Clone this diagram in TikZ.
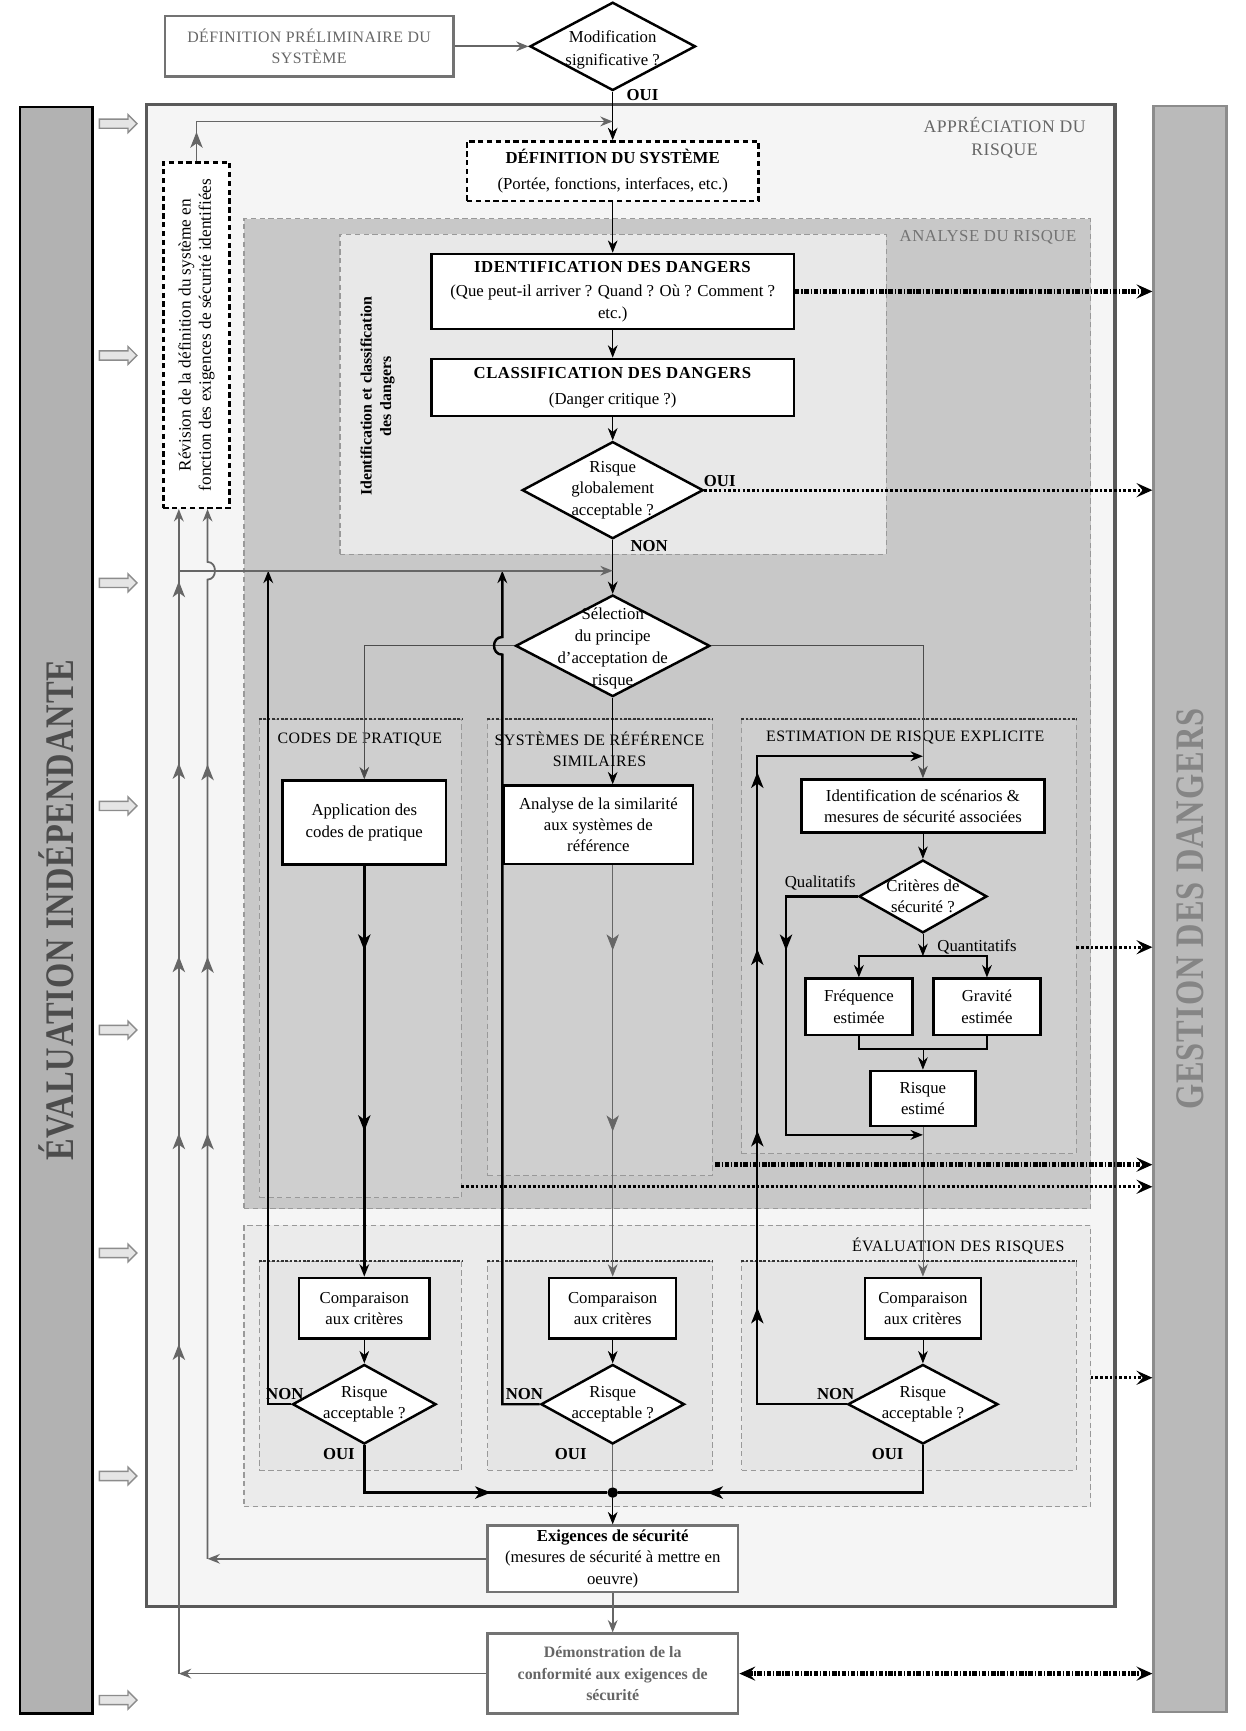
\documentclass[tikz,border=0pt]{standalone}
\usepackage{fontspec}
\usepackage{graphicx}
\setmainfont{Liberation Serif}
\newfontfamily\lsfont{Liberation Serif}[LetterSpace=3]
\usetikzlibrary{shapes.geometric,shapes.arrows,arrows.meta,decorations.markings}
\definecolor{bargris}{HTML}{B2B2B2}
\definecolor{fondapp}{HTML}{F5F5F5}
\definecolor{fondana}{HTML}{C8C8C8}
\definecolor{fondidc}{HTML}{E8E8E8}
\definecolor{fondcol}{HTML}{CFCFCF}
\definecolor{fondeva}{HTML}{EBEBEB}
\definecolor{fondevc}{HTML}{E5E5E5}
\begin{document}
\begin{tikzpicture}[x=0.022cm,y=-0.022cm,
  >={Stealth[length=7pt,width=5.5pt]},
  sz/.style 2 args={minimum width=#1*0.022cm,minimum height=#2*0.022cm},
  txt/.style={font=\fontsize{9.5}{12}\selectfont,align=center,inner sep=1pt},
  hdr/.style={font=\lsfont\fontsize{9}{12}\selectfont,align=center,inner sep=1pt},
  lab/.style={txt,font=\bfseries\fontsize{9.5}{12}\selectfont},
  box/.style={txt,draw,line width=1.4pt,fill=white,inner sep=2pt},
  dia/.style={diamond,draw,line width=1.4pt,fill=white,inner sep=0pt},
  reg/.style={draw=black!40,dash pattern=on 3pt off 2pt,line width=0.6pt,fill=#1},
  topdots/.style={draw=black!80,line width=1.2pt,dash pattern=on 1.5pt off 1pt},
  thk/.style={line width=1.4pt},
  fb/.style={draw=black!60,line width=1pt},
  ddt/.style={line width=2.6pt,dash pattern=on 2.5pt off 1pt on 0.8pt off 1pt},
  ddm/.style={line width=1.6pt,dash pattern=on 1.5pt off 1.2pt},
  dtip/.style={-{Stealth[length=9pt,width=8pt,inset=3.5pt]}},
  marr/.style={postaction={decorate,decoration={markings,
    mark=at position #1 with {\arrow{Stealth[length=9pt,width=7pt,inset=2.5pt]}}}}},
  barr/.style={single arrow,draw=black!45,fill=black!10,line width=0.8pt,sz={16}{34},
    single arrow head extend=2.5pt,inner sep=2.2pt},
  bar/.style={draw,fill=bargris,line width=1.4pt,sz={66}{1455}}]
\useasboundingbox (0,0) rectangle (1128,1568);
% 两侧竖条
\node[bar] (lbar) at (51,824.5) {};
\node[bar,draw=black!45,fill=black!27] (rbar) at (1078,823.5) {};
\node[rotate=90,text=black!70,font=\lsfont\bfseries\fontsize{23}{23}\selectfont] (lbar-t) at (lbar) {\scalebox{0.8}[1]{ÉVALUATION INDÉPENDANTE}};
\node[rotate=90,text=black!48,font=\lsfont\bfseries\fontsize{23}{23}\selectfont] (rbar-t) at (rbar) {\scalebox{0.8}[1]{GESTION DES DANGERS}};
\foreach \yy [count=\i] in {112,322,528,730,933,1135,1337,1540}
  \node[barr] (ba\i) at (105,\yy) {};
% 顶部
\node[box,draw=black!55,line width=1.6pt,hdr,text=black!60,sz={261}{55}] (prelim) at (280,42) {DÉFINITION PRÉLIMINAIRE DU\\SYSTÈME};
\node[dia,sz={150}{80}] (modif) at (555,42) {};
\node[txt,font=\fontsize{9.5}{13}\selectfont] (modif-t) at (555,45) {Modification\\significative ?};
% 区域
\node[draw=black!65,line width=1.8pt,fill=fondapp,sz={877}{1360}] (appr) at (571.5,775) {};
\node[txt,text=black!60,font=\lsfont\fontsize{10}{13}\selectfont] (appr-l) at (910,125) {APPRÉCIATION DU\\RISQUE};
\node[reg=fondana,sz={767}{897}] (ana) at (604.5,646.5) {};
\node[hdr,text=black!55,font=\lsfont\fontsize{9.5}{12}\selectfont] (ana-l) at (895,215) {ANALYSE DU RISQUE};
\node[reg=fondidc,sz={495}{290}] (idc) at (555.5,357) {};
\node[txt,rotate=90,font=\bfseries\fontsize{9}{11}\selectfont] (idc-l) at (342,359) {Identification et classification\\des dangers};
\node[reg=fondcol,sz={183}{433}] (codes) at (326.5,868.5) {};
\node[reg=fondcol,sz={203}{413}] (sref) at (543.5,858.5) {};
\node[reg=fondcol,sz={303}{393}] (estim) at (823.5,848.5) {};
\node[reg=fondeva,sz={767}{255}] (eva) at (604.5,1237.5) {};
\node[reg=fondevc,sz={183}{189}] (ev1) at (326.5,1237.5) {};
\node[reg=fondevc,sz={203}{189}] (ev2) at (543.5,1237.5) {};
\node[reg=fondevc,sz={303}{189}] (ev3) at (823.5,1237.5) {};
\foreach \c in {codes,sref,estim,ev1,ev2,ev3}
  \draw[topdots] (\c.north west) -- (\c.north east);
\node[hdr] (codes-l) at (326,670) {CODES DE PRATIQUE};
\node[hdr] (sref-l) at (543,679) {SYSTÈMES DE RÉFÉRENCE\\SIMILAIRES};
\node[hdr] (estim-l) at (820,668) {ESTIMATION DE RISQUE EXPLICITE};
\node[hdr] (eva-l) at (868,1129) {ÉVALUATION DES RISQUES};
\node[draw,line width=1.4pt,dash pattern=on 3pt off 2pt,fill=white,sz={60}{313}] (revis) at (178,303.5) {};
\node[txt,rotate=90,font=\fontsize{9.8}{11.5}\selectfont] (revis-t) at (revis) {Révision de la définition du système en\\fonction des exigences de sécurité identifiées};
% 主干方框
\node[box,dash pattern=on 3pt off 2pt,sz={264}{54}] (defsys) at (555,155) {\textbf{DÉFINITION DU SYSTÈME}\\[3pt](Portée, fonctions, interfaces, etc.)};
\node[box,sz={328}{68}] (ident) at (555,264) {\textbf{\lsfont IDENTIFICATION DES DANGERS}\\[2pt](Que peut-il arriver ? Quand ? Où ? Comment ?\\etc.)};
\node[box,sz={328}{52}] (classif) at (555,351) {\textbf{\lsfont CLASSIFICATION DES DANGERS}\\[3pt](Danger critique ?)};
\node[dia,sz={164}{88}] (glob) at (555,444) {};
\node[txt] (glob-t) at (glob) {Risque\\globalement\\acceptable ?};
\node[dia,sz={176}{92}] (sel) at (555,585) {};
\node[txt,font=\fontsize{9.5}{12.5}\selectfont] (sel-t) at (555,587) {Sélection\\du principe\\d’acceptation de\\risque};
% 三列
\node[box,sz={148}{76}] (appl) at (330,745) {Application des\\codes de pratique};
\node[box,sz={171}{71}] (analy) at (542,747) {Analyse de la similarité\\aux systèmes de\\référence};
\node[box,sz={220}{48}] (scen) at (836,730) {Identification de scénarios \&\\mesures de sécurité associées};
\node[dia,sz={116}{66}] (crit) at (836,812) {};
\node[txt] (crit-t) at (crit) {Critères de\\sécurité ?};
\node[box,sz={97}{51}] (freq) at (778,912) {Fréquence\\estimée};
\node[box,sz={97}{51}] (grav) at (894,912) {Gravité\\estimée};
\node[box,sz={95}{50}] (rest) at (836,995) {Risque\\estimé};
\foreach \n/\xx/\ww in {1/330/118,2/555/115,3/836/105}
  \node[box,sz={\ww}{55}] (comp\n) at (\xx,1185) {Comparaison\\aux critères};
\foreach \n/\xx/\ww in {1/330/130,2/555/130,3/836/136}{
  \node[dia,sz={\ww}{72}] (acc\n) at (\xx,1272) {};
  \node[txt] (acc\n-t) at (acc\n) {Risque\\acceptable ?};
}
\node[circle,fill,inner sep=0pt,minimum size=6pt] (jn) at (555,1352) {};
\node[box,draw=black!55,line width=1.6pt,sz={227}{60}] (exig) at (555,1412) {\textbf{Exigences de sécurité}\\(mesures de sécurité à mettre en\\oeuvre)};
\node[box,draw=black!55,line width=1.6pt,text=black!60,font=\bfseries\fontsize{9}{12}\selectfont,sz={227}{72}] (demo) at (555,1516) {Démonstration de la\\conformité aux exigences de\\sécurité};
% 标签
\node[lab] (oui0) at (582,86) {OUI};
\node[lab] (oui-g) at (652,436) {OUI};
\node[lab] (non-g) at (588,495) {NON};
\node[txt] (qual) at (743,800) {Qualitatifs};
\node[txt] (quant) at (885,858) {Quantitatifs};
\foreach \n/\xn/\xo in {1/258/307,2/475/517,3/757/804}{
  \node[lab] (non\n) at (\xn,1263) {NON};
  \node[lab] (oui\n) at (\xo,1317) {OUI};
}
% 连线
\draw[fb,->] (prelim) -- (modif);
\draw[->] (modif) -- (defsys);
\draw[->] (defsys) -- (ident);
\draw[->] (ident) -- (classif);
\draw[->] (classif) -- (glob);
\draw[->] (glob) -- (sel);
\draw[draw=black!70,->] (sel.west) -| (appl.north);
\draw[->] (sel.south) -- (sel.south |- analy.north);
\draw[draw=black!70,->] (sel.east) -| (scen.north);
\draw[thk,->,marr=0.206,marr=0.646] (appl) -- (comp1);
\draw[draw=black!60,->,marr=0.207,marr=0.647] (analy.south -| comp2) -- (comp2);
\draw[->] (scen) -- (crit);
\coordinate (qb) at (836,866);
\draw[->] (crit) -- (qb);
\draw[thk,->] (qb) -| (freq.north);
\draw[thk,->] (qb) -| (grav.north);
\coordinate (fb) at (836,950);
\draw[thk] (freq.south) |- (fb) -| (grav.south);
\draw[->] (fb) -- (rest);
\coordinate (ql) at (712,1028);
\coordinate (qj) at (836,1028);
\draw[thk,->,marr=0.281] (crit.west) -| (ql) -- (qj);
\draw[draw=black!60,->] (rest) -- (comp3);
\foreach \n in {1,2,3}
  \draw[->] (comp\n) -- (acc\n);
% 不可接受的回路
\coordinate (f1) at (243,517);
\draw[thk,->] (acc1.west) -| (f1);
\coordinate (b2a) at (455,593);
\coordinate (b2b) at (455,577);
\coordinate (f2) at (455,517);
\draw[thk,->] (acc2.west) -| (b2a) .. controls +(-10,0) and +(-10,0) .. (b2b) -- (f2);
\coordinate (l3) at (686,685);
\coordinate (f3) at (836,685);
\draw[line width=1.1pt,->,marr=0.206,marr=0.402,marr=0.603,marr=0.799] (acc3.west) -| (l3) -- (f3);
\draw[thk,marr=0.6] (acc1.south) |- (jn);
\draw[thk,marr=0.748] (acc3.south) |- (jn);
\draw[draw=black!60] (acc2) -- (jn);
\draw[->] (jn) -- (exig);
% 灰色反馈线
\coordinate (top) at (555,110);
\draw[fb,->,marr=0.064] (revis.north) |- (top);
\coordinate (v1) at (162,1516);
\coordinate (v2) at (188,1412);
\draw[fb,->] (demo.west) -- (v1);
\draw[fb,->] (exig.west) -- (v2);
\draw[fb,->,marr=0.283,marr=0.464,marr=0.616,marr=0.782,marr=0.938] (v1) -- (v1 |- revis.south);
\coordinate (b1a) at (188,525);
\coordinate (b1b) at (188,509);
\draw[fb,->,marr=0.402,marr=0.569,marr=0.751] (v2) -- (b1a) .. controls +(9,0) and +(9,0) .. (b1b) -- (v2 |- revis.south);
\coordinate (h1) at (162,517);
\coordinate (h2) at (555,517);
\draw[fb,->] (h1) -- (h2);
\draw[fb,->] (exig) -- (demo);
% 点线箭头
\draw[ddt,dtip] (ident.east) -- (ident.east -| rbar.west);
\draw[ddm,dtip] (glob.east) -- (glob.east -| rbar.west);
\coordinate (o1) at (975,858);
\draw[ddm,dtip] (o1) -- (o1 -| rbar.west);
\coordinate (o2) at (648,1055);
\draw[ddt,dtip] (o2) -- (o2 -| rbar.west);
\coordinate (o3) at (418,1075);
\draw[ddm,line width=1.8pt,dtip] (o3) -- (o3 -| rbar.west);
\coordinate (o4) at (988,1248);
\draw[ddm,dtip] (o4) -- (o4 -| rbar.west);
\draw[ddt,{Stealth[length=9pt,width=8pt,inset=3.5pt]}-{Stealth[length=9pt,width=8pt,inset=3.5pt]}] (demo.east) -- (demo.east -| rbar.west);
\end{tikzpicture}
\end{document}
